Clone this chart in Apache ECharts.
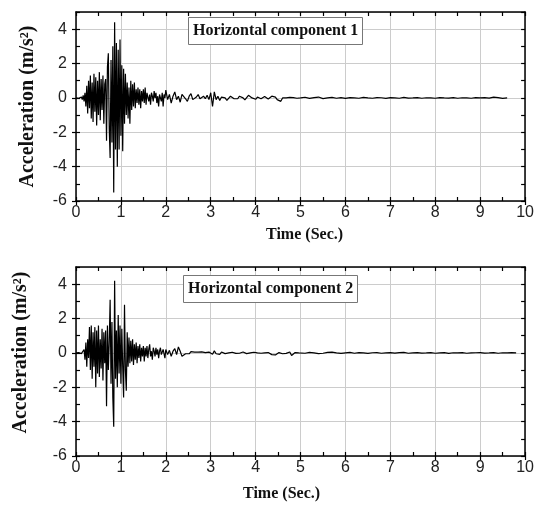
<!DOCTYPE html>
<html>
<head>
<meta charset="utf-8">
<script src="https://cdn.jsdelivr.net/npm/echarts@6/dist/echarts.min.js"></script>
<style>
html,body{margin:0;padding:0;background:#fff;}
#chart{width:537px;height:507px;}
</style>
</head>
<body>
<div id="chart"></div>
<script>
// ---- Data ----
// Each record is stored as three segments: start time (s) and sample step (s)
const segStarts = [0, 2, 5];
const segSteps = [0.02, 0.04, 0.1];

const panelTitles = ['Horizontal component 1', 'Horizontal component 2'];
const xTickLabels = ['0','1','2','3','4','5','6','7','8','9','10'];
const yTickLabels = ['-6','-4','-2','0','2','4'];

// Horizontal component 1 (m/s^2)
const comp1A = [
  0, 0, 0.02, -0.02, 0.03, -0.03, 0.05, -0.1, 0.15, -0.2,
  0.3, -0.5, 0.7, -0.9, 1.0, -0.6, 1.3, -1.2, 0.9, -1.4,
  1.4, -0.8, 1.2, -1.6, 1.0, -1.0, 1.5, -1.3, 1.1, -0.7,
  1.3, -1.5, 0.8, 1.1, -2.5, 1.8, 2.6, -1.8, -3.5, 2.2,
  -2.6, 3.0, -5.5, 4.4, -3.0, 3.2, -4.0, 2.8, -3.0, 3.4,
  -2.2, 1.9, -3.1, 1.7, -1.5, 1.4, -1.0, 0.9, -1.2, 0.6,
  -1.5, 1.0, -0.7, 0.8, -0.5, 0.9, -0.6, 0.5, -0.3, 0.6,
  -0.4, 0.5, -0.6, 0.4, -0.2, 0.5, -0.3, 0.6, -0.4, 0.3,
  0.4, -0.2, 0.2, -0.4, 0.3, 0.1, -0.2, 0.4, 0.0, 0.3,
  -0.3, 0.1, -0.5, 0.2, 0.1, -0.2, 0.3, -0.5, 0.2, 0.0
];
const comp1B = [
  0.45, -0.1, 0.2, -0.3, 0.1, 0.35, -0.1, 0.1, -0.25, 0.2,
  0.3, -0.05, -0.2, 0.1, 0.25, -0.1, -0.2, 0.05, 0.2, -0.05,
  -0.15, 0.1, -0.05, 0.15, -0.1, 0.3, -0.5, 0.35, -0.1, 0.1,
  -0.15, 0.05, 0.15, 0.0, -0.15, -0.05, 0.1, 0.12, -0.05, -0.15,
  -0.05, 0.1, 0.15, 0.0, -0.12, -0.05, 0.15, 0.2, 0.0, -0.1,
  -0.08, 0.05, 0.0, -0.05, 0.05, 0.08, 0.0, -0.06, -0.02, 0.1,
  0.2, 0.05, -0.1, -0.05, -0.2, 0.0, 0.05, 0.0, -0.05, 0.03,
  -0.02, 0.02, 0.05, -0.02, -0.1
];
const comp1C = [
  0.0, 0.04, -0.03, 0.02, 0.05, -0.04, 0.0, 0.03, -0.02, 0.02,
  -0.03, 0.02, 0.0, -0.02, 0.03, 0.0, -0.02, 0.02, 0.01, -0.03,
  0.02, 0.0, -0.02, 0.03, -0.01, 0.0, 0.02, -0.02, 0.01, 0.0,
  -0.02, 0.02, 0.0, -0.01, 0.02, -0.02, 0.01, 0.0, -0.02, 0.02,
  0.0, 0.02, -0.01, 0.05, 0.02, -0.03, 0.0
];

// Horizontal component 2 (m/s^2)
const comp2A = [
  0, 0.01, -0.01, 0.02, -0.02, 0.03, -0.04, 0.05, -0.1, 0.2,
  -0.4, 0.6, -0.8, 0.8, -0.3, 1.5, -1.0, 1.6, -1.5, 1.2,
  -0.8, 1.5, -2.0, 1.3, -1.2, 1.6, -1.4, 0.8, -0.9, 1.4,
  -1.6, 1.2, -0.6, 1.3, -3.1, 1.6, -1.0, 0.6, 3.1, -1.8,
  1.8, -2.6, -4.3, 4.2, -1.5, 1.3, -2.0, 2.2, -1.2, 1.6,
  -1.8, 1.4, -0.8, -2.6, 2.8, -1.0, -2.2, 1.2, -0.8, 0.9,
  -0.6, 0.7, -0.5, 0.8, -0.7, 0.5, -0.4, 0.6, -0.6, 0.4,
  -0.3, 0.5, -0.5, 0.3, -0.2, 0.4, -0.5, 0.3, -0.2, 0.4,
  -0.3, 0.2, 0.5, -0.2, 0.1, -0.4, 0.3, 0.1, -0.2, 0.3,
  -0.1, 0.2, -0.3, 0.1, 0.3, -0.1, -0.2, 0.2, 0.1, -0.3
];
const comp2B = [
  0.2, -0.1, 0.15, -0.2, 0.1, 0.25, -0.1, 0.35, 0.1, -0.2,
  -0.3, -0.05, 0.05, -0.05, 0.08, 0.0, 0.05, -0.05, 0.05, -0.02,
  0.06, -0.04, 0.02, -0.05, 0.05, 0.1, -0.08, 0.12, -0.05, 0.03,
  -0.08, 0.05, 0.0, -0.04, 0.06, 0.0, -0.05, 0.04, 0.02, -0.03,
  -0.08, -0.02, 0.03, 0.05, 0.0, -0.04, 0.02, 0.0, -0.02, 0.04,
  0.05, 0.0, -0.05, -0.02, 0.03, 0.0, -0.03, 0.02, -0.04, -0.1,
  -0.05, -0.12, -0.05, 0.02, 0.0, -0.05, -0.1, -0.03, 0.02, 0.05,
  -0.15, -0.08, 0.02, 0.05, 0.0
];
const comp2C = [
  0.02, -0.02, 0.03, 0.0, -0.04, -0.02, 0.03, 0.05, 0.0, -0.03,
  0.0, 0.03, -0.02, 0.02, 0.0, -0.03, 0.01, 0.02, -0.02, 0.0,
  0.02, -0.01, 0.02, 0.03, -0.02, 0.0, 0.02, -0.01, 0.0, 0.02,
  -0.02, 0.0, 0.02, -0.03, 0.01, 0.0, 0.02, -0.02, 0.0, 0.01,
  0.02, -0.01, 0.0, 0.02, -0.02, 0.01, 0.0, 0.02, 0.0
];

// ---- build [time, value] pairs from sampled segments ----
function buildRecord(segs) {
  const out = [];
  segs.forEach((vals, k) => {
    vals.forEach((v, i) => {
      const t = Math.round((segStarts[k] + i * segSteps[k]) * 1000) / 1000;
      out.push([t, v]);
    });
  });
  return out;
}
const record1 = buildRecord([comp1A, comp1B, comp1C]);
const record2 = buildRecord([comp2A, comp2B, comp2C]);

// ---- styling ----
const serif = "'Liberation Serif', 'Times New Roman', serif";
const sans = "'Liberation Sans', Arial, sans-serif";
const black = '#000';
const gridGray = '#cccccc';

const grids = [
  { left: 76, top: 12, width: 452, height: 189 },
  { left: 76, top: 267, width: 452, height: 189 }
];

function xAxesFor(g, namePad, nameGap) {
  return [
    { // bottom main
      gridIndex: g, type: 'value', min: 0, max: 10, interval: 1, position: 'bottom',
      axisLine: { show: true, onZero: false, lineStyle: { color: black, width: 1.5 } },
      axisTick: { show: true, inside: false, length: 4, lineStyle: { color: black, width: 1.2 } },
      splitLine: { show: true, lineStyle: { color: gridGray, width: 1 } },
      axisLabel: { show: true, margin: 4, color: '#222', fontFamily: sans, fontSize: 16,
        formatter: v => xTickLabels[Math.round(v)] },
      name: 'Time (Sec.)', nameLocation: 'middle', nameGap: nameGap,
      nameTextStyle: { fontFamily: serif, fontWeight: 'bold', fontSize: 16, color: '#111', padding: namePad }
    },
    { // bottom inner ticks
      gridIndex: g, type: 'value', min: 0, max: 10, interval: 0.5, position: 'bottom',
      axisLine: { show: false, onZero: false },
      axisTick: { show: true, inside: true, length: 4, lineStyle: { color: black, width: 1.2 } },
      splitLine: { show: false }, axisLabel: { show: false }
    },
    { // top frame
      gridIndex: g, type: 'value', min: 0, max: 10, interval: 0.5, position: 'top',
      axisLine: { show: true, onZero: false, lineStyle: { color: black, width: 1.5 } },
      axisTick: { show: true, inside: true, length: 4, lineStyle: { color: black, width: 1.2 } },
      splitLine: { show: false }, axisLabel: { show: false }
    }
  ];
}

function yAxesFor(g, namePad, nameGap) {
  return [
    { // left main
      gridIndex: g, type: 'value', min: -6, max: 5, interval: 2, position: 'left',
      axisLine: { show: true, onZero: false, lineStyle: { color: black, width: 1.5 } },
      axisTick: { show: true, inside: false, length: 4, lineStyle: { color: black, width: 1.2 } },
      splitLine: { show: true, lineStyle: { color: gridGray, width: 1 } },
      axisLabel: { show: true, margin: 9, color: '#222', fontFamily: sans, fontSize: 16, showMaxLabel: false,
        formatter: v => { const i = yTickLabels.indexOf(String(v)); return i >= 0 ? yTickLabels[i] : ''; } },
      name: 'Acceleration (m/s²)', nameLocation: 'middle', nameGap: nameGap,
      nameTextStyle: { fontFamily: serif, fontWeight: 'bold', fontSize: 20, color: '#111', padding: namePad }
    },
    { // left inner ticks
      gridIndex: g, type: 'value', min: -6, max: 5, interval: 1, position: 'left',
      axisLine: { show: false, onZero: false },
      axisTick: { show: true, inside: true, length: 4, lineStyle: { color: black, width: 1.2 } },
      splitLine: { show: false }, axisLabel: { show: false }
    },
    { // right frame
      gridIndex: g, type: 'value', min: -6, max: 5, interval: 1, position: 'right',
      axisLine: { show: true, onZero: false, lineStyle: { color: black, width: 1.5 } },
      axisTick: { show: true, inside: true, length: 4, lineStyle: { color: black, width: 1.2 } },
      splitLine: { show: false }, axisLabel: { show: false }
    }
  ];
}

const xAxis = [...xAxesFor(0, [0, 0, 0, 8], 26), ...xAxesFor(1, [0, 38, 0, 0], 30)];
const yAxis = [...yAxesFor(0, [0, 0, 0, 0], 38), ...yAxesFor(1, [0, 0, 0, 18], 45)];

function titleBox(text, left, top) {
  return {
    text: text, left: left, top: top,
    padding: [5, 4, 5, 5],
    borderColor: '#777', borderWidth: 1, backgroundColor: '#fff',
    textStyle: { fontFamily: serif, fontWeight: 'bold', fontSize: 16, lineHeight: 18, color: '#111' }
  };
}

const option = {
  animation: false,
  backgroundColor: '#fff',
  title: [titleBox(panelTitles[0], 188, 17), titleBox(panelTitles[1], 183, 275)],
  grid: grids,
  xAxis: xAxis,
  yAxis: yAxis,
  series: [
    { type: 'line', xAxisIndex: 0, yAxisIndex: 0, data: record1, showSymbol: false, symbol: 'none',
      lineStyle: { color: black, width: 1.2 }, z: 5 },
    { type: 'line', xAxisIndex: 3, yAxisIndex: 3, data: record2, showSymbol: false, symbol: 'none',
      lineStyle: { color: black, width: 1.2 }, z: 5 }
  ]
};

const chart = echarts.init(document.getElementById('chart'), null, { renderer: 'canvas' });
chart.setOption(option);
</script>
</body>
</html>
